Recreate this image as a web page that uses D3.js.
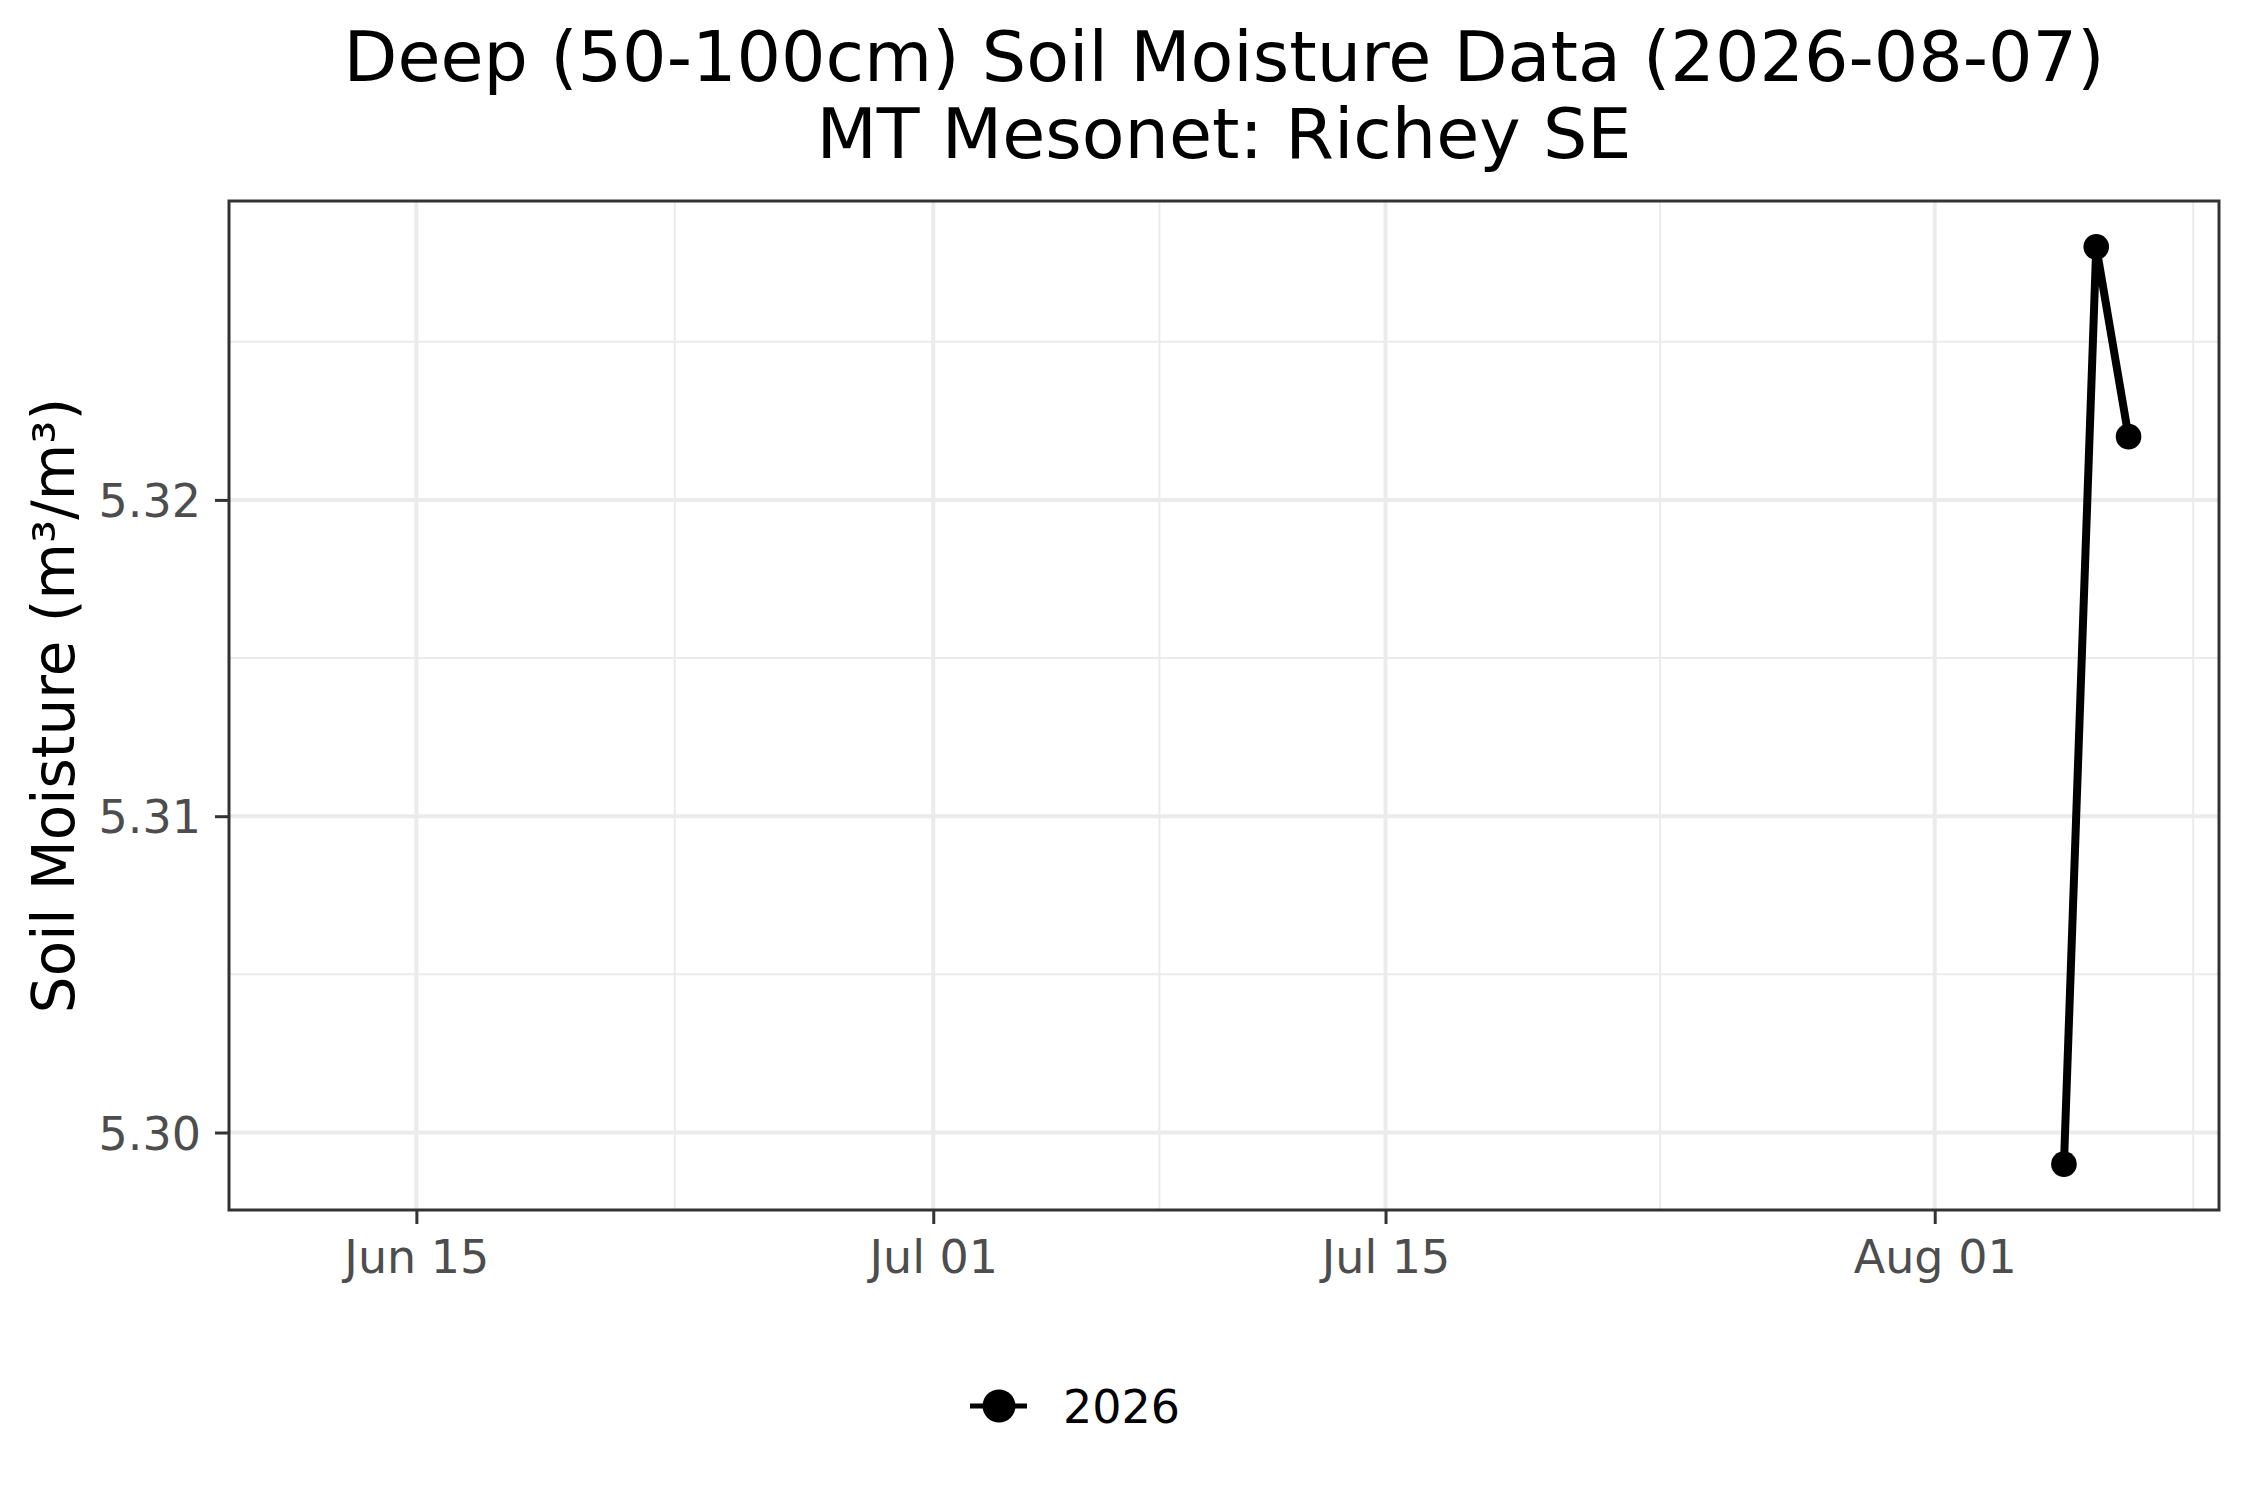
<!DOCTYPE html>
<html>
<head>
<meta charset="utf-8">
<script src="https://cdn.jsdelivr.net/npm/d3@7"></script>
<style>
  html, body { margin: 0; padding: 0; background: #ffffff; }
  svg { display: block; font-family: "DejaVu Sans", sans-serif; }
</style>
</head>
<body>
<script>
// ---- data ----
const dates = ["2026-08-05", "2026-08-06", "2026-08-07"];
const values = [5.299, 5.328, 5.322];
const seriesName = "2026";
const xLimits = ["2026-06-12", "2026-08-07"];
const xTicks = ["2026-06-15", "2026-07-01", "2026-07-15", "2026-08-01"];
const xMinor = ["2026-06-23T00:00", "2026-07-08T00:00", "2026-07-23T12:00", "2026-08-09T00:00"];
const yTicks = [5.30, 5.31, 5.32];
const yMinor = [5.305, 5.315, 5.325];
const titleLines = ["Deep (50-100cm) Soil Moisture Data (2026-08-07)", "MT Mesonet: Richey SE"];
const yTitle = "Soil Moisture (m³/m³)";

// ---- layout ----
const W = 2250, H = 1500;
const panel = { left: 229, right: 2219, top: 201, bottom: 1210 };

const parse = s => new Date(s.length > 10 ? s + "Z" : s + "T00:00Z");
const data = dates.map((d, i) => ({ date: parse(d), value: values[i] }));

const svg = d3.select("body").append("svg").attr("width", W).attr("height", H);
svg.append("rect").attr("width", W).attr("height", H).attr("fill", "#ffffff");

// x scale with 5% expansion
const x0 = parse(xLimits[0]).getTime(), x1 = parse(xLimits[1]).getTime();
const xPad = (x1 - x0) * 0.05;
const x = d3.scaleUtc().domain([new Date(x0 - xPad), new Date(x1 + xPad)]).range([panel.left, panel.right]);

// y scale with 5% expansion
const [vmin, vmax] = d3.extent(values);
const yPad = (vmax - vmin) * 0.05;
const y = d3.scaleLinear().domain([vmin - yPad, vmax + yPad]).range([panel.bottom, panel.top]);

const grid = svg.append("g");
// minor grid
grid.selectAll("line.ymin").data(yMinor).join("line")
  .attr("x1", panel.left).attr("x2", panel.right)
  .attr("y1", d => y(d)).attr("y2", d => y(d))
  .attr("stroke", "#EBEBEB").attr("stroke-width", 2);
grid.selectAll("line.xmin").data(xMinor.map(parse)).join("line")
  .attr("y1", panel.top).attr("y2", panel.bottom)
  .attr("x1", d => x(d)).attr("x2", d => x(d))
  .attr("stroke", "#EBEBEB").attr("stroke-width", 2);
// major grid
grid.append("g").selectAll("line").data(yTicks).join("line")
  .attr("x1", panel.left).attr("x2", panel.right)
  .attr("y1", d => y(d)).attr("y2", d => y(d))
  .attr("stroke", "#EBEBEB").attr("stroke-width", 4);
grid.append("g").selectAll("line").data(xTicks.map(parse)).join("line")
  .attr("y1", panel.top).attr("y2", panel.bottom)
  .attr("x1", d => x(d)).attr("x2", d => x(d))
  .attr("stroke", "#EBEBEB").attr("stroke-width", 4);

// line + points
const line = d3.line().x(d => x(d.date)).y(d => y(d.value));
svg.append("path").datum(data).attr("d", line)
  .attr("fill", "none").attr("stroke", "#000").attr("stroke-width", 8)
  .attr("stroke-linejoin", "round");
svg.append("g").selectAll("circle").data(data).join("circle")
  .attr("cx", d => x(d.date)).attr("cy", d => y(d.value)).attr("r", 12.8).attr("fill", "#000");

// panel border
svg.append("rect")
  .attr("x", panel.left).attr("y", panel.top)
  .attr("width", panel.right - panel.left).attr("height", panel.bottom - panel.top)
  .attr("fill", "none").attr("stroke", "#333333").attr("stroke-width", 3);

// axes
const xAxis = d3.axisBottom(x).tickValues(xTicks.map(parse))
  .tickFormat(d3.utcFormat("%b %d")).tickSize(14).tickPadding(22);
const gx = svg.append("g").attr("transform", `translate(0,${panel.bottom})`).call(xAxis);
gx.select(".domain").remove();
gx.selectAll(".tick line").attr("stroke", "#333333").attr("stroke-width", 3);
gx.selectAll(".tick text").attr("fill", "#4D4D4D").attr("font-size", 46)
  .attr("font-family", "DejaVu Sans").attr("dy", null).attr("y", 63);

const yAxis = d3.axisLeft(y).tickValues(yTicks).tickFormat(d3.format(".2f")).tickSize(14).tickPadding(16);
const gy = svg.append("g").attr("transform", `translate(${panel.left},0)`).call(yAxis);
gy.select(".domain").remove();
gy.selectAll(".tick line").attr("stroke", "#333333").attr("stroke-width", 3);
gy.selectAll(".tick text").attr("fill", "#4D4D4D").attr("font-size", 46)
  .attr("font-family", "DejaVu Sans").attr("dy", "0.36em").attr("x", -28);

// y title
svg.append("text")
  .attr("transform", `translate(74,${(panel.top + panel.bottom) / 2}) rotate(-90)`)
  .attr("text-anchor", "middle").attr("font-size", 58).attr("fill", "#000")
  .text(yTitle);

// title
const cx = (panel.left + panel.right) / 2;
svg.append("g").selectAll("text").data(titleLines).join("text")
  .attr("x", cx).attr("y", (d, i) => 81 + i * 77)
  .attr("text-anchor", "middle").attr("font-size", 70).attr("fill", "#000")
  .text(d => d);

// legend
const lg = svg.append("g");
lg.append("line").attr("x1", 970).attr("x2", 1027).attr("y1", 1406).attr("y2", 1406)
  .attr("stroke", "#000").attr("stroke-width", 5);
lg.append("circle").attr("cx", 999).attr("cy", 1406).attr("r", 16.5).attr("fill", "#000");
lg.append("text").attr("x", 1063).attr("y", 1423).attr("font-size", 46).attr("fill", "#000")
  .text(seriesName);
</script>
</body>
</html>
